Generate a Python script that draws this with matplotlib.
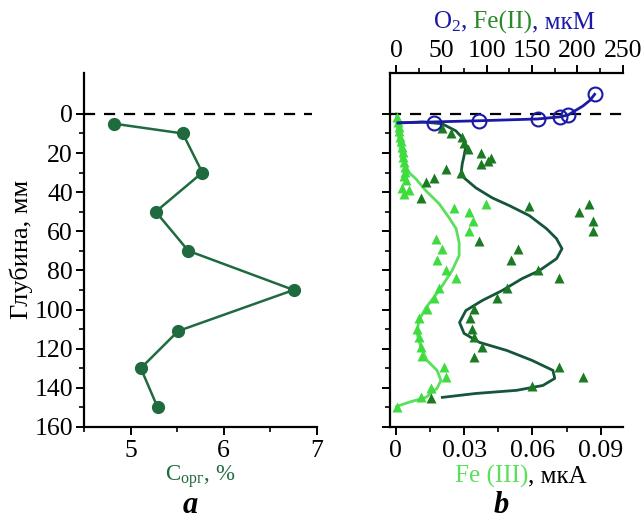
import matplotlib

matplotlib.use('Agg')
import matplotlib.pyplot as plt
from matplotlib.ticker import MultipleLocator, FixedLocator

plt.rcParams['font.family'] = ['Liberation Serif', 'DejaVu Serif']
plt.rcParams['mathtext.fontset'] = 'custom'
plt.rcParams['mathtext.rm'] = 'Liberation Serif'
plt.rcParams['mathtext.it'] = 'Liberation Serif:italic'

# colours
dark = '#1f6b3f'
fe2_col = '#1c7a24'
fe2_line = '#16553a'
fe3_col = '#3fdc3f'
fe3_line = '#5ae05a'
blue = '#1a1aa6'

# panel a: organic carbon
corg_depth = [5, 10, 30, 50, 70, 90, 111, 130, 150]
corg_pct = [4.82, 5.56, 5.77, 5.27, 5.62, 6.75, 5.51, 5.11, 5.29]

# panel b: O2 (мкМ)
o2_depth = [-10, 0.5, 1.5, 2.6, 3.5, 4.5]
o2_um = [219, 190, 181, 156, 92, 42]
o2_fit_depth = [-10, -7, -4, -1.5, 0.5, 1.5, 2.6, 3.5, 4.1, 4.6]
o2_fit_um = [219, 214, 206, 197, 190, 181, 156, 92, 42, 2]

# Fe(II) (мкМ) measured
fe2_depth = [7, 10, 12, 15, 18, 20, 22.5, 24, 25.5, 30, 28, 33, 35, 43,
             47, 50, 46, 55, 60, 65, 69, 74.5, 80, 84, 89, 94, 99.5, 104.5,
             110, 114, 119, 124.5, 129.5, 134.5, 139, 145]
fe2_um = [51, 61, 73, 75, 79, 94, 105, 101, 94, 72, 55, 42, 33, 28,
          147, 202, 213, 217, 217, 92, 134, 127, 156, 180, 122, 111, 86, 81,
          84, 86, 95, 86, 180, 206, 150, 39]
# Fe(II) fitted profile
fe2_fit_depth = [4.6, 4.1, 5.1, 8.7, 12.2, 16.3, 21.4, 25.5, 29.1, 32.7, 37.8,
                 42.9, 46.9, 52, 58.7, 63.8, 68.9, 74, 80.1, 84.2, 90.3, 95.4,
                 100.5, 106.6, 112.2, 116.8, 120.9, 126, 131.1, 135.2, 138.8,
                 141.3, 142.9, 144.9]
fe2_fit_um = [3, 29, 51, 66, 73, 77, 75, 73, 72, 75, 88,
              106, 125, 147, 166, 177, 183, 177, 158, 139, 117, 95,
              77, 70, 75, 92, 122, 150, 173, 175, 162,
              133, 88, 51]

# Fe(III) (мкА) measured
fe3_depth = [1.5, 4, 6.5, 9, 12, 14, 17, 19.5, 22, 24.5, 27, 29.5, 32, 34,
             38, 39, 41, 48, 50, 46, 55, 60, 64, 69, 74.5, 80, 84, 89, 94,
             99.5, 104.5, 110, 114, 119, 124, 129.5, 134.5, 140, 144.5, 150]
fe3_ua = [0.0004, 0.0009, 0.0013, 0.0013, 0.0018, 0.0022, 0.0026, 0.0031,
          0.0031, 0.0035, 0.0040, 0.0040, 0.0035, 0.0044, 0.0026, 0.0057,
          0.0035, 0.0256, 0.0322, 0.0397, 0.0340, 0.0322, 0.0176, 0.0203,
          0.0180, 0.0220, 0.0265, 0.0190, 0.0168, 0.0137, 0.0101, 0.0093,
          0.0101, 0.0110, 0.0115, 0.0212, 0.0220, 0.0154, 0.0110, 0.0004]
# Fe(III) fitted profile
fe3_fit_depth = [0, 3.6, 12.8, 23, 29.1, 33.2, 39.3, 45.9, 53.1, 58.7, 65.8,
                 72.4, 80.1, 90.3, 99, 105.6, 112.2, 119.4, 126, 131.1, 136.2,
                 140.3, 144.9, 147.4, 149.5]
fe3_fit_ua = [0.0004, 0.0004, 0.0013, 0.0026, 0.0049, 0.0088, 0.0132, 0.0190,
              0.0234, 0.0265, 0.0278, 0.0278, 0.0247, 0.0190, 0.0132, 0.0101,
              0.0093, 0.0110, 0.0137, 0.0181, 0.0198, 0.0181, 0.0132, 0.0057,
              0.0004]

depth_ticks = [0, 20, 40, 60, 80, 100, 120, 140, 160]
depth_minor = [10, 30, 50, 70, 90, 110, 130, 150]

fig = plt.figure(figsize=(6.41, 5.2), dpi=100)
fig.patch.set_facecolor('white')
axa = fig.add_axes([0.131, 0.179, 0.3635, 0.681])
axb = fig.add_axes([0.608, 0.179, 0.3635, 0.681])


def style_axis(ax):
    for s in ax.spines.values():
        s.set_linewidth(1.6)
    ax.tick_params(which='major', length=6, width=1.4, labelsize=18.5)
    ax.tick_params(which='minor', length=3.5, width=1.2)


# ---- panel a
axa.plot(corg_pct, corg_depth, '-o', color=dark, lw=1.8, ms=8.5, zorder=3)
axa.axhline(0, color='black', ls=(0, (5, 4)), lw=1.6, xmax=0.98)
axa.set_xlim(4.5, 7)
axa.set_ylim(160, -21)
axa.yaxis.set_major_locator(FixedLocator(depth_ticks))
axa.yaxis.set_minor_locator(FixedLocator(depth_minor))
axa.xaxis.set_major_locator(MultipleLocator(1))
axa.xaxis.set_minor_locator(MultipleLocator(0.5))
axa.spines['top'].set_visible(False)
axa.spines['right'].set_visible(False)
style_axis(axa)
axa.tick_params(axis='y', pad=2)
axa.set_ylabel('Глубина, мм', fontsize=19, labelpad=1)
axa.set_xlabel('C$_{\\mathregular{орг}}$, %', fontsize=16.5, color=dark, labelpad=1)

# ---- panel b (bottom axis: Fe(III))
axb.plot(fe3_fit_ua, fe3_fit_depth, color=fe3_line, lw=2, zorder=2)
axb.plot(fe3_ua, fe3_depth, '^', color=fe3_col, ms=7, mec='none', zorder=3)
axb.axhline(0, color='black', ls=(0, (5, 4)), lw=1.6)
axb.set_xlim(-0.0027, 0.0997)
axb.set_ylim(160, -21)
axb.xaxis.set_major_locator(MultipleLocator(0.03))
axb.xaxis.set_minor_locator(MultipleLocator(0.015))
axb.xaxis.set_major_formatter(plt.FuncFormatter(lambda v, _: '0' if abs(v) < 1e-9 else f'{v:.2f}'))
axb.yaxis.set_major_locator(FixedLocator(depth_ticks))
axb.yaxis.set_minor_locator(FixedLocator(depth_minor))
axb.tick_params(labelleft=False)
axb.spines['top'].set_visible(False)
axb.spines['right'].set_visible(False)
style_axis(axb)

# top axis: O2 and Fe(II)
axt = axb.twiny()
axt.plot(fe2_fit_um, fe2_fit_depth, color=fe2_line, lw=2, zorder=2)
axt.plot(fe2_um, fe2_depth, '^', color=fe2_col, ms=7, mec='none', zorder=3)
axt.plot(o2_fit_um, o2_fit_depth, color=blue, lw=2, zorder=4)
axt.plot(o2_um, o2_depth, 'o', mfc='none', mec=blue, mew=1.5, ms=10, zorder=5)
axt.set_xlim(-7, 250)
axt.set_ylim(160, -21)
axt.xaxis.set_major_locator(MultipleLocator(50))
axt.xaxis.set_minor_locator(MultipleLocator(25))
axt.spines['right'].set_visible(False)
axt.spines['bottom'].set_visible(False)
axt.spines['left'].set_visible(False)
style_axis(axt)
axt.tick_params(axis='x', pad=2)

# axis titles made of coloured pieces
fig.canvas.draw()
renderer = fig.canvas.get_renderer()


def chained(x, y, parts, size):
    for txt, col in parts:
        t = fig.text(x, y, txt, color=col, fontsize=size, ha='left', va='center')
        bb = t.get_window_extent(renderer)
        x += bb.width / fig.bbox.width


chained(0.675, 0.957, [('O$_2$,', blue), (' Fe(II)', '#2a8a2a'), (', мкМ', blue)], 18)
chained(0.71, 0.083, [('Fe (III)', fe3_line), (', мкА', 'black')], 18)

fig.text(0.297, 0.027, 'a', fontsize=22, fontweight='bold', style='italic', ha='center', va='center')
fig.text(0.782, 0.027, 'b', fontsize=22, fontweight='bold', style='italic', ha='center', va='center')

plt.savefig('out.png', dpi=100)
plt.close()
